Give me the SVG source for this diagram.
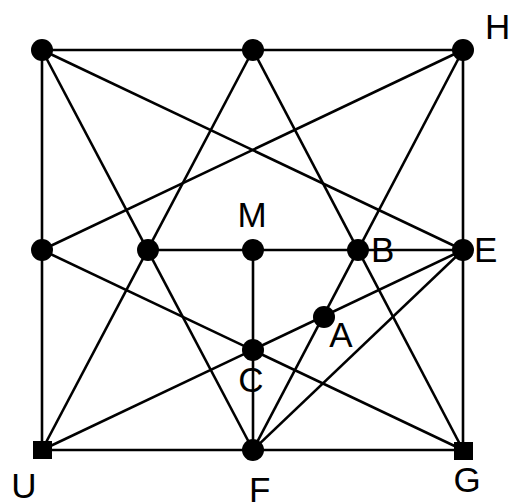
<svg xmlns="http://www.w3.org/2000/svg" width="512" height="503" viewBox="0 0 512 503">
<style>
.e{stroke:#000;stroke-width:2.6;fill:none}
.n{fill:#000}
.l{font-family:"Liberation Sans",Arial,sans-serif;font-size:35px;fill:#000}
</style>
<rect width="512" height="503" fill="#fff"/>
<g id="connectors">
<line class="e" x1="42" y1="50" x2="463" y2="50"/>
<line class="e" x1="463" y1="50" x2="463" y2="450"/>
<line class="e" x1="463" y1="450" x2="42" y2="450"/>
<line class="e" x1="42" y1="450" x2="42" y2="50"/>
<line class="e" x1="42" y1="50" x2="253" y2="450"/>
<line class="e" x1="42" y1="50" x2="463" y2="250"/>
<line class="e" x1="253" y1="50" x2="42" y2="450"/>
<line class="e" x1="253" y1="50" x2="463" y2="450"/>
<line class="e" x1="463" y1="50" x2="42" y2="250"/>
<line class="e" x1="463" y1="50" x2="253" y2="450"/>
<line class="e" x1="42" y1="250" x2="463" y2="450"/>
<line class="e" x1="463" y1="250" x2="42" y2="450"/>
<line class="e" x1="148" y1="250" x2="463" y2="250"/>
<line class="e" x1="253" y1="250" x2="253" y2="450"/>
<line class="e" x1="253" y1="450" x2="463" y2="250"/>
</g>
<g id="n-TL"><circle class="n" cx="42" cy="50" r="11"/></g>
<g id="n-TM"><circle class="n" cx="253" cy="50" r="11"/></g>
<g id="n-H"><circle class="n" cx="463" cy="50" r="11"/><text class="l" x="485" y="39">H</text></g>
<g id="n-LM"><circle class="n" cx="42" cy="250" r="11"/></g>
<g id="n-ML"><circle class="n" cx="148" cy="250" r="11"/></g>
<g id="n-M"><circle class="n" cx="253" cy="250" r="11"/><text class="l" x="252" y="227" text-anchor="middle">M</text></g>
<g id="n-B"><circle class="n" cx="358" cy="250" r="11"/><text class="l" x="371" y="262">B</text></g>
<g id="n-E"><circle class="n" cx="463" cy="250" r="11"/><text class="l" x="474" y="262">E</text></g>
<g id="n-A"><circle class="n" cx="324" cy="317" r="11"/><text class="l" x="341" y="347" text-anchor="middle">A</text></g>
<g id="n-C"><circle class="n" cx="253" cy="350" r="11"/><text class="l" x="251" y="392" text-anchor="middle">C</text></g>
<g id="n-U"><rect class="n" x="33" y="441" width="19" height="18"/><text class="l" x="24" y="498" text-anchor="middle">U</text></g>
<g id="n-F"><circle class="n" cx="253" cy="450" r="11"/><text class="l" x="249" y="502">F</text></g>
<g id="n-G"><rect class="n" x="454" y="442" width="19" height="18"/><text class="l" x="467" y="492" text-anchor="middle">G</text></g>
</svg>
